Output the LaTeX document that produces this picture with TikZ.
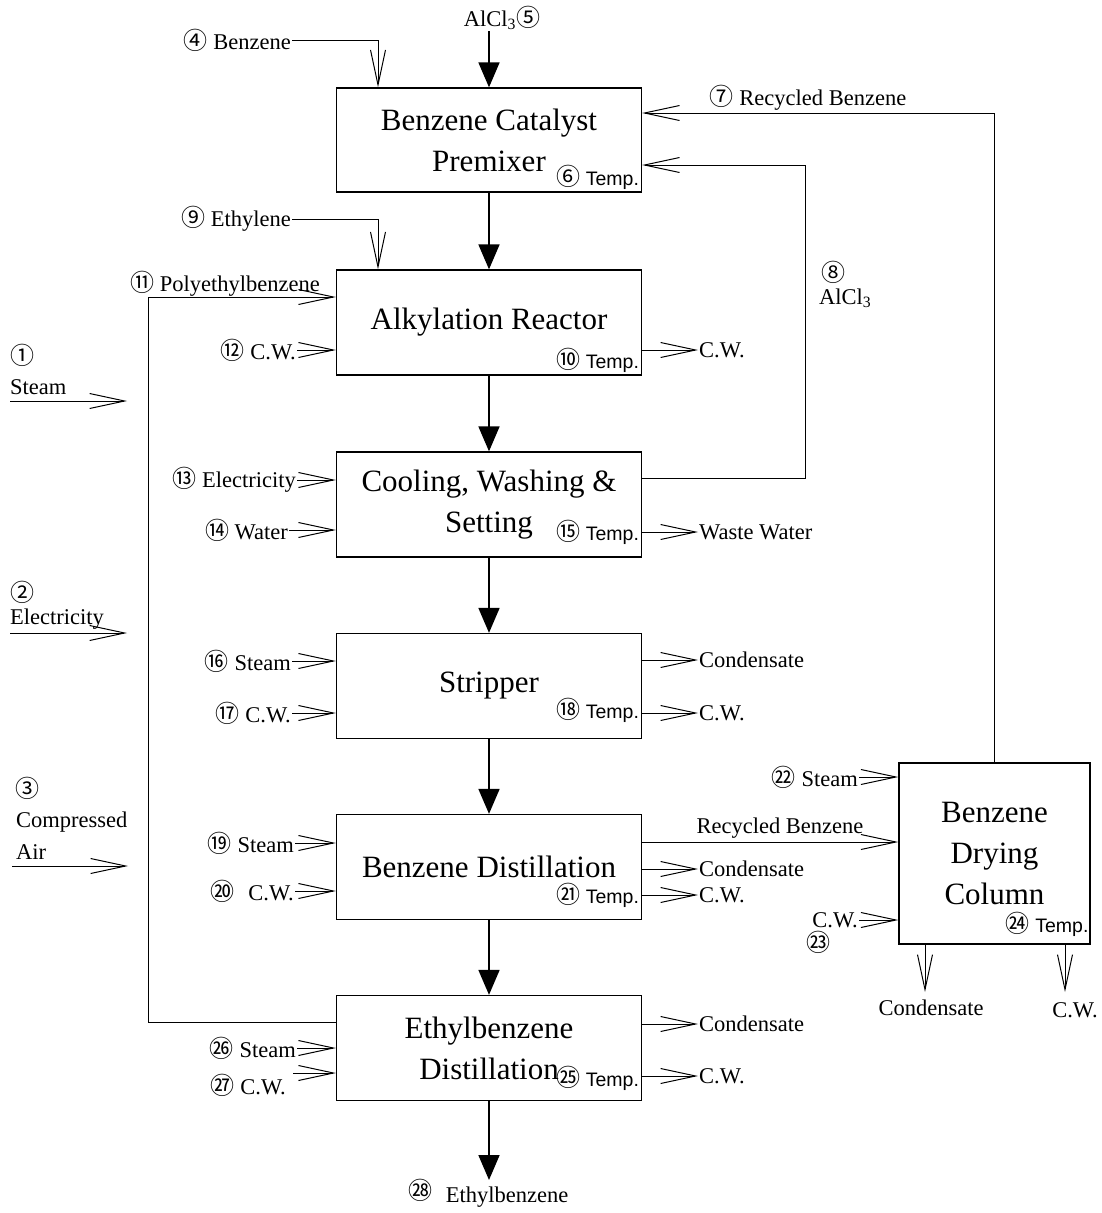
\documentclass[tikz,border=0pt]{standalone}
\usepackage{fontspec}
\setmainfont{Liberation Serif}
\newfontfamily\cjk{Noto Sans CJK SC}
\newfontfamily\sanslab{Liberation Sans}
\usetikzlibrary{arrows.meta}
\newcommand\cn[1]{{\cjk\fontsize{24}{24}\selectfont #1}}
\tikzset{
  box/.style={draw, line width=1.3pt, minimum width=305pt, minimum height=105pt, align=center, inner sep=0pt, font=\fontsize{31}{41}\selectfont},
  lab/.style={inner sep=1pt, font=\fontsize{22.5}{25}\selectfont},
  templab/.style={inner sep=0pt, font=\sanslab\fontsize{19.5}{20}\selectfont},
  oa/.style={line width=1pt, -{Straight Barb[length=35pt,width=15pt]}},
  fa/.style={line width=1.8pt, -{Triangle[length=25pt,width=21pt]}}
}
\begin{document}
\begin{tikzpicture}[x=1pt,y=-1pt]
\useasboundingbox (0,0) rectangle (1102,1213);
\fill[white] (0,0) rectangle (1102,1213);

% boxes
\node[box, minimum height=104pt] (b1) at (489,140) {Benzene Catalyst\\Premixer};
\node[box] (b2) at (489,322.5) {Alkylation Reactor};
\node[box] (b3) at (489,504.5) {Cooling, Washing \&\\Setting};
\node[box] (b4) at (489,686) {Stripper};
\node[box] (b5) at (489,867) {Benzene Distillation};
\node[box] (b6) at (489,1048) {Ethylbenzene\\Distillation};
\node[box, minimum width=191pt, minimum height=181pt] (b7) at (994.5,853.5) {Benzene\\Drying\\Column};

% temperature labels
\node[templab, anchor=south east] (t6) at ([xshift=-3pt,yshift=3pt]b1.south east) {\cn{⑥} Temp.};
\node[templab, anchor=south east] (t10) at ([xshift=-3pt,yshift=3pt]b2.south east) {\cn{⑩} Temp.};
\node[templab, anchor=south east] (t15) at ([xshift=-3pt,yshift=13pt]b3.south east) {\cn{⑮} Temp.};
\node[templab, anchor=south east] (t18) at ([xshift=-3pt,yshift=16pt]b4.south east) {\cn{⑱} Temp.};
\node[templab, anchor=south east] (t21) at ([xshift=-3pt,yshift=12pt]b5.south east) {\cn{㉑} Temp.};
\node[templab, anchor=south east] (t25) at ([xshift=-3pt,yshift=10pt]b6.south east) {\cn{㉕} Temp.};
\node[templab, anchor=south east] (t24) at ([xshift=-2pt,yshift=8pt]b7.south east) {\cn{㉔} Temp.};

% main flow
\node[lab] (l5) at (502,18) {AlCl\textsubscript{3}\cn{⑤}};
\draw[fa] (b1.north |- l5.south) -- (b1.north);
\draw[fa] (b1.south) -- (b2.north);
\draw[fa] (b2.south) -- (b3.north);
\draw[fa] (b3.south) -- (b4.north);
\draw[fa] (b4.south) -- (b5.north);
\draw[fa] (b5.south) -- (b6.north);
\coordinate (e28) at (489,1180);
\draw[fa] (b6.south) -- (e28);
\node[lab] (l28a) at (420,1190) {\cn{㉘}};
\node[lab] (l28b) at (507,1197) {Ethylbenzene};

% feeds to premixer
\node[lab, anchor=east] (l4) at (292,40) {\cn{④} Benzene};
\draw[oa] (l4.east) -| ([xshift=-111pt]b1.north);
\node[lab] (l7) at (808,98) {\cn{⑦} Recycled Benzene};
\draw[oa] (b7.north) |- ([yshift=27pt]b1.east);
\coordinate (c8) at (805,165);
\draw[oa] ([yshift=26pt]b3.east) -| (c8) -- ([yshift=-25pt]b1.east);
\node[lab, anchor=west] (l8a) at (820,272) {\cn{⑧}};
\node[lab, anchor=west] (l8b) at (818,298) {AlCl\textsubscript{3}};

% alkylation reactor
\node[lab, anchor=east] (l9) at (292,219) {\cn{⑨} Ethylene};
\draw[oa] (l9.east) -| ([xshift=-111pt]b2.north);
\node[lab] (l11) at (225,284) {\cn{⑪} Polyethylbenzene};
\coordinate (c11) at (148,297);
\draw[oa] ([yshift=26pt]b6.west) -| (c11) -- ([yshift=25.5pt]b2.west);
\node[lab, anchor=east] (l12) at (297,350) {\cn{⑫} C.W.};
\draw[oa] (l12.east) -- (l12.east -| b2.west);
\node[lab, anchor=west] (r10) at (698,350) {C.W.};
\draw[oa] (r10.west -| b2.east) -- (r10.west);

% utilities on the left
\node[lab] (l1a) at (22,355) {\cn{①}};
\node[lab, anchor=west] (l1b) at (9,387) {Steam};
\coordinate (s1) at (10,401); \coordinate (e1) at (127,401);
\draw[oa] (s1) -- (e1);
\node[lab] (l2a) at (22,592) {\cn{②}};
\node[lab, anchor=west] (l2b) at (9,619) {Electricity};
\coordinate (s2) at (10,633); \coordinate (e2) at (127,633);
\draw[oa] (s2) -- (e2);
\node[lab] (l3a) at (28,788) {\cn{③}};
\node[lab, anchor=west] (l3b) at (15,822) {Compressed};
\node[lab, anchor=west] (l3c) at (15,852) {Air};
\coordinate (s3) at (12,866); \coordinate (e3) at (128,866);
\draw[oa] (s3) -- (e3);

% cooling, washing
\node[lab, anchor=east] (l13) at (297,480) {\cn{⑬} Electricity};
\draw[oa] (l13.east) -- (l13.east -| b3.west);
\node[lab, anchor=east] (l14) at (289,530) {\cn{⑭} Water};
\draw[oa] (l14.east) -- (l14.east -| b3.west);
\node[lab, anchor=west] (r15) at (698,532) {Waste Water};
\draw[oa] (r15.west -| b3.east) -- (r15.west);

% stripper
\node[lab, anchor=east] (l16) at (292,661) {\cn{⑯} Steam};
\draw[oa] (l16.east) -- (l16.east -| b4.west);
\node[lab, anchor=east] (l17) at (292,713) {\cn{⑰} C.W.};
\draw[oa] (l17.east) -- (l17.east -| b4.west);
\node[lab, anchor=west] (r4a) at (698,660) {Condensate};
\draw[oa] (r4a.west -| b4.east) -- (r4a.west);
\node[lab, anchor=west] (r4b) at (698,713) {C.W.};
\draw[oa] (r4b.west -| b4.east) -- (r4b.west);

% benzene distillation
\node[lab, anchor=east] (l19) at (295,843) {\cn{⑲} Steam};
\draw[oa] (l19.east) -- (l19.east -| b5.west);
\node[lab, anchor=east] (l20) at (295,891) {\cn{⑳}\hspace{14pt}C.W.};
\draw[oa] (l20.east) -- (l20.east -| b5.west);
\node[lab] (r5rb) at (780,828) {Recycled Benzene};
\draw[oa] ([yshift=25pt]b5.east) -- ([yshift=11.5pt]b7.west);
\node[lab, anchor=west] (r5a) at (698,869) {Condensate};
\draw[oa] (r5a.west -| b5.east) -- (r5a.west);
\node[lab, anchor=west] (r5b) at (698,895) {C.W.};
\draw[oa] (r5b.west -| b5.east) -- (r5b.west);

% benzene drying column
\node[lab, anchor=east] (l22) at (859,777) {\cn{㉒} Steam};
\draw[oa] (l22.east) -- (l22.east -| b7.west);
\node[lab, anchor=east] (l23a) at (859,920) {C.W.};
\node[lab] (l23b) at (818,942) {\cn{㉓}};
\draw[oa] (l23a.east) -- (l23a.east -| b7.west);
\coordinate (e24a) at (925,992);
\coordinate (e24b) at (1065,992);
\draw[oa] (e24a |- b7.south) -- (e24a);
\draw[oa] (e24b |- b7.south) -- (e24b);
\node[lab] (r24a) at (931,1008) {Condensate};
\node[lab] (r24b) at (1075,1010) {C.W.};

% ethylbenzene distillation
\node[lab, anchor=east] (l26) at (297,1048) {\cn{㉖} Steam};
\draw[oa] (l26.east) -- (l26.east -| b6.west);
\node[lab, anchor=east] (l27) at (287,1085) {\cn{㉗} C.W.};
\coordinate (s27) at (293,1073);
\draw[oa] (s27) -- (s27 -| b6.west);
\node[lab, anchor=west] (r6a) at (698,1024) {Condensate};
\draw[oa] (r6a.west -| b6.east) -- (r6a.west);
\node[lab, anchor=west] (r6b) at (698,1076) {C.W.};
\draw[oa] (r6b.west -| b6.east) -- (r6b.west);
\end{tikzpicture}
\end{document}
